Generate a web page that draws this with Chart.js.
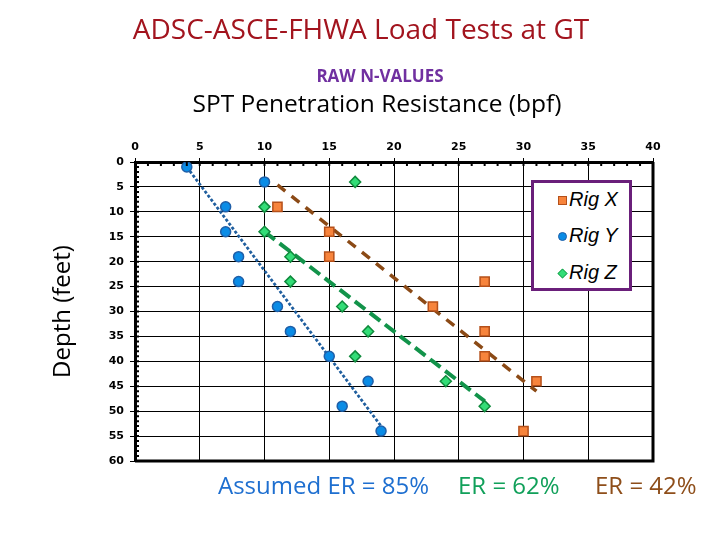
<!DOCTYPE html>
<html>
<head>
<meta charset="utf-8">
<script src="https://cdn.jsdelivr.net/npm/chart.js@4"></script>
<style>
  body { margin: 0; background: #fff; }
  #wrap { position: relative; width: 720px; height: 540px; }
  #chart { position: absolute; left: 0; top: 0; }
  .txt { position: absolute; white-space: nowrap; font-family: 'Open Sans', sans-serif; }
  #title { left: 361px; transform: translateX(-50%); top: 9px; font-size: 28px; color: #A2141E; }
  #sub { left: 380px; transform: translateX(-50%); top: 64px; font-size: 17px; font-weight: bold; color: #7030A0; }
  #xtitle { left: 377px; transform: translateX(-50%); top: 86px; font-size: 24.5px; color: #000; }
  .er { top: 468px; font-size: 24px; }
  #legend { position: absolute; left: 531px; top: 180px; width: 95px; height: 105px; border: 3px solid #6A1F7A; background: #fff; }
  .item { position: absolute; left: 35px; font-family: 'Liberation Sans', Arial, sans-serif; font-style: italic; font-size: 20px; color: #000; }
  .mk { position: absolute; left: -11px; top: 8px; width: 7px; height: 7px; border: 1.5px solid; }
</style>
</head>
<body>
<div id="wrap">
  <canvas id="chart" width="720" height="540"></canvas>
  <div class="txt" id="title">ADSC-ASCE-FHWA Load Tests at GT</div>
  <div class="txt" id="sub">RAW N-VALUES</div>
  <div class="txt" id="xtitle">SPT Penetration Resistance (bpf)</div>
  <div class="txt er" style="left:218px;color:#1E6FD0">Assumed ER = 85%</div>
  <div class="txt er" style="left:458px;color:#11A05A">ER = 62%</div>
  <div class="txt er" style="left:595px;color:#8E4E1A">ER = 42%</div>
  <div id="legend">
    <div class="item" style="top:5px"><span class="mk" style="background:#F7843C;border-color:#B5501A"></span>Rig X</div>
    <div class="item" style="top:41px"><span class="mk" style="background:#0A8CE6;border-color:#1F5FA8;border-radius:50%"></span>Rig Y</div>
    <div class="item" style="top:78px"><span class="mk" style="background:#33DD77;border-color:#0F8A3C;transform:rotate(45deg) scale(0.8)"></span>Rig Z</div>
  </div>
</div>
<script>
// Rig data: N-value (bpf) vs depth (ft)
const rigXDepth = [9, 14, 19, 24, 29, 34, 39, 44, 54];
const rigXN = [11, 15, 15, 27, 23, 27, 27, 31, 30];
const rigYDepth = [1, 4, 9, 14, 19, 24, 29, 34, 39, 44, 49, 54];
const rigYN = [4, 10, 7, 7, 8, 8, 11, 12, 15, 18, 16, 19];
const rigZDepth = [4, 9, 14, 19, 24, 29, 34, 39, 44, 49];
const rigZN = [17, 10, 10, 12, 12, 16, 18, 17, 24, 27];

// trend lines (start and end)
const trendXN = [11, 31];
const trendXDepth = [4.6, 46];
const trendYN = [4, 19];
const trendYDepth = [1, 53];
const trendZN = [10, 27];
const trendZDepth = [14, 48];

const nMin = 0, nMax = 40, nStep = 5;
const depthMin = 0, depthMax = 60, depthStep = 5;

function toPoints(xs, ys) {
    return xs.map(function(v, i) { return { x: v, y: ys[i] }; });
}

// minor ticks and outer frame
const framePlugin = {
    id: 'frame',
    afterDraw(chart) {
        const ctx = chart.ctx;
        const area = chart.chartArea;
        const xs = chart.scales.x;
        const ys = chart.scales.y;
        ctx.save();
        ctx.strokeStyle = '#000';
        ctx.lineWidth = 2;
        ctx.beginPath();
        for (let v = nMin; v <= nMax; v++) {
            const px = xs.getPixelForValue(v);
            ctx.moveTo(px, area.top);
            ctx.lineTo(px, area.top + 4);
        }
        for (let v = depthMin; v <= depthMax; v++) {
            const py = ys.getPixelForValue(v);
            ctx.moveTo(area.left, py);
            ctx.lineTo(area.left + 4, py);
        }
        ctx.stroke();
        ctx.lineWidth = 3;
        ctx.beginPath();
        ctx.moveTo(area.left, area.bottom);
        ctx.lineTo(area.right, area.bottom);
        ctx.lineTo(area.right, area.top);
        ctx.stroke();
        ctx.restore();
    }
};

const tickFont = { family: 'DejaVu Sans', weight: 'bold', size: 11 };

new Chart(document.getElementById('chart'), {
    type: 'scatter',
    data: {
        datasets: [
            {
                label: 'Rig X', data: toPoints(rigXN, rigXDepth), order: 0,
                pointStyle: 'rect', pointRadius: 6.5, backgroundColor: '#F7843C',
                borderColor: '#B5501A', pointBorderWidth: 1.5
            },
            {
                label: 'Rig Y', data: toPoints(rigYN, rigYDepth), order: 0,
                pointStyle: 'circle', pointRadius: 5, backgroundColor: '#0A8CE6',
                borderColor: '#1F5FA8', pointBorderWidth: 1.5
            },
            {
                label: 'Rig Z', data: toPoints(rigZN, rigZDepth), order: 0,
                pointStyle: 'rectRot', pointRadius: 5.5, backgroundColor: '#33DD77',
                borderColor: '#0F8A3C', pointBorderWidth: 1.5
            },
            {
                label: 'trend X', data: toPoints(trendXN, trendXDepth), order: 1,
                showLine: true, pointRadius: 0, borderColor: '#8B4A16',
                borderWidth: 3.5, borderDash: [10, 8]
            },
            {
                label: 'trend Y', data: toPoints(trendYN, trendYDepth), order: 1,
                showLine: true, pointRadius: 0, borderColor: '#1F5E9E',
                borderWidth: 2.8, borderDash: [3, 2]
            },
            {
                label: 'trend Z', data: toPoints(trendZN, trendZDepth), order: 1,
                showLine: true, pointRadius: 0, borderColor: '#12934A',
                borderWidth: 4, borderDash: [13, 6]
            }
        ]
    },
    options: {
        responsive: false,
        animation: false,
        layout: { padding: { top: 130, left: 40, right: 67, bottom: 79 } },
        plugins: { legend: { display: false }, tooltip: { enabled: false } },
        scales: {
            x: {
                type: 'linear', position: 'top', min: nMin, max: nMax,
                ticks: { stepSize: nStep, color: '#000', font: tickFont, padding: 4 },
                grid: { color: '#000', lineWidth: 1, tickLength: 4, tickColor: '#000' },
                border: { color: '#000', width: 3 },
                afterFit(scale) { scale.height = 32; }
            },
            y: {
                type: 'linear', reverse: true, min: depthMin, max: depthMax,
                ticks: { stepSize: depthStep, color: '#000', font: tickFont, padding: 6 },
                grid: { color: '#000', lineWidth: 1, tickLength: 5, tickColor: '#000' },
                border: { color: '#000', width: 3 },
                title: {
                    display: true, text: 'Depth (feet)', color: '#000',
                    font: { family: 'Open Sans', size: 24 }, padding: { top: 9, bottom: 0 }
                },
                afterFit(scale) { scale.width = 95; }
            }
        }
    },
    plugins: [framePlugin]
});
</script>
</body>
</html>
